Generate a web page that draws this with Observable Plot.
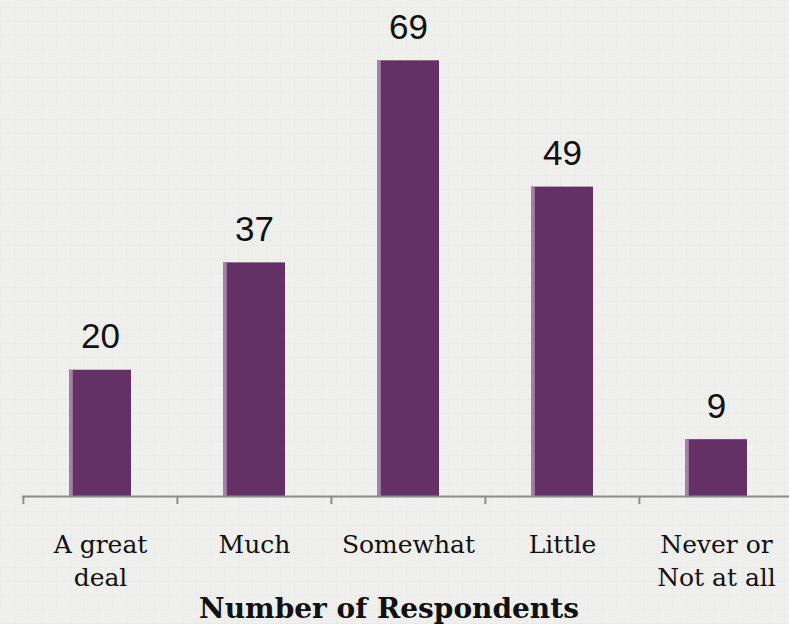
<!DOCTYPE html>
<html>
<head>
<meta charset="utf-8">
<script src="https://cdn.jsdelivr.net/npm/d3@7"></script>
<script src="https://cdn.jsdelivr.net/npm/@observablehq/plot@0.6"></script>
<style>
  html, body { margin: 0; padding: 0; background: #efefed; }
  body {
    width: 789px; height: 624px; overflow: hidden;
    background-color: #efefed;
    background-image:
      repeating-linear-gradient(0deg, rgba(0,0,0,0.018) 0 1px, transparent 1px 14px),
      repeating-linear-gradient(90deg, rgba(0,0,0,0.018) 0 1px, transparent 1px 14px);
  }
  svg { display: block; background: transparent !important; }
</style>
</head>
<body>
<div id="chart"></div>
<script>
const categories = ["A great deal", "Much", "Somewhat", "Little", "Never or Not at all"];
const tickLabels = ["A great\ndeal", "Much", "Somewhat", "Little", "Never or\nNot at all"];
const respondents = [20, 37, 69, 49, 9];
const title = "Number of Respondents";

const data = categories.map((c, i) => ({category: c, value: respondents[i], label: tickLabels[i]}));
const labelOf = new Map(categories.map((c, i) => [c, tickLabels[i]]));

const W = 789, H = 624;
const xRange = [22, 793];
const step = (xRange[1] - xRange[0]) / categories.length;
const barInset = 46;
const purple = "#633165";
const serif = "'DejaVu Serif', serif";

const chart = Plot.plot({
  width: W,
  height: H,
  marginTop: 54,
  marginBottom: 128,
  marginLeft: 22,
  marginRight: 0,
  style: {background: "transparent", overflow: "visible"},
  x: {domain: categories, range: xRange, padding: 0, axis: null, label: null},
  y: {domain: [0, 70], axis: null},
  marks: [
    Plot.barY(data, {x: "category", y: "value", fill: purple, insetLeft: barInset, insetRight: barInset}),
    Plot.barY(data, {x: "category", y: "value", fill: "#b596b8", fillOpacity: 0.8,
      insetLeft: barInset, insetRight: step - barInset - 4}),
    Plot.ruleY([0], {stroke: "#8c8c8c", strokeWidth: 2}),
    Plot.ruleX(categories, {x: d => d, y1: 0, y2: 0, insetBottom: -8, dx: -step / 2, stroke: "#8c8c8c", strokeWidth: 2}),
    Plot.text(data, {x: "category", y: "value", text: d => String(d.value), dy: -22,
      lineAnchor: "bottom", fontSize: 35, fontFamily: "'Liberation Sans', Arial, sans-serif", fill: "#111"}),
    Plot.axisX({tickSize: 0, tickPadding: 33, fontSize: 25, fontFamily: serif, lineHeight: 1.32,
      label: null, tickFormat: d => labelOf.get(d), fill: "#111"}),
    Plot.text([title], {frameAnchor: "bottom", text: d => d, dy: 121, dx: -17, lineAnchor: "bottom",
      fontSize: 28, fontWeight: "bold", fontFamily: serif, fill: "#111"})
  ]
});
document.getElementById("chart").appendChild(chart);
</script>
</body>
</html>
